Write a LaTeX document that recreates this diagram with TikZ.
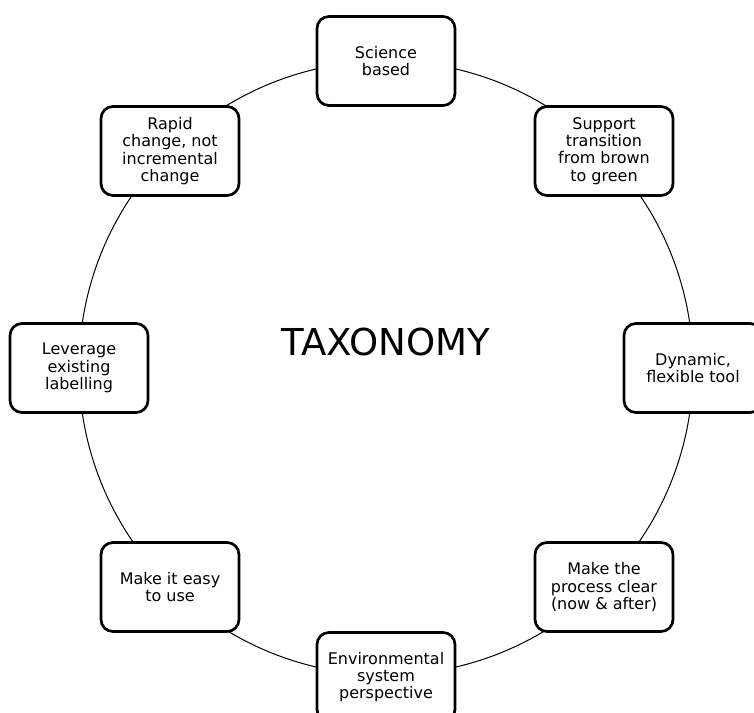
\documentclass[tikz,border=0pt]{standalone}
\usepackage{fontspec}
\setmainfont{DejaVu Sans}
\begin{document}
\begin{tikzpicture}[x=0.75pt,y=-0.75pt]
	\tikzset{
		goalbox/.style={draw, line width=2pt, rounded corners=9pt, fill=white,
			align=center, minimum width=103.5pt, minimum height=66.75pt,
			inner sep=2pt, font=\fontsize{12}{13}\selectfont},
		ring/.style={line width=0.75pt}
	}
	\useasboundingbox (0,0) rectangle (754,713);
	%Centre of the ring
	\coordinate (hub) at (386,368);
	\draw[ring] (hub) circle (230.25pt);
	%Title
	\node [font=\fontsize{27.8}{30}\selectfont] (title) at (386,342) {TAXONOMY};
	%Boxes round the ring, clockwise from the top
	\node [goalbox] (science) at (386,61) {Science\\based};
	\node [goalbox] (support) at (604,151) {Support\\transition\\from brown\\to green};
	\node [goalbox] (dynamic) at (693,368) {Dynamic,\\flexible tool};
	\node [goalbox] (process) at (604,587) {Make the\\process clear\\(now \& after)};
	\node [goalbox] (environ) at (386,677) {Environmental\\system\\perspective};
	\node [goalbox] (easy) at (170,587) {Make it easy\\to use};
	\node [goalbox] (leverage) at (79,368) {Leverage\\existing\\labelling};
	\node [goalbox] (rapid) at (170,151) {Rapid\\change, not\\incremental\\change};
\end{tikzpicture}
\end{document}
